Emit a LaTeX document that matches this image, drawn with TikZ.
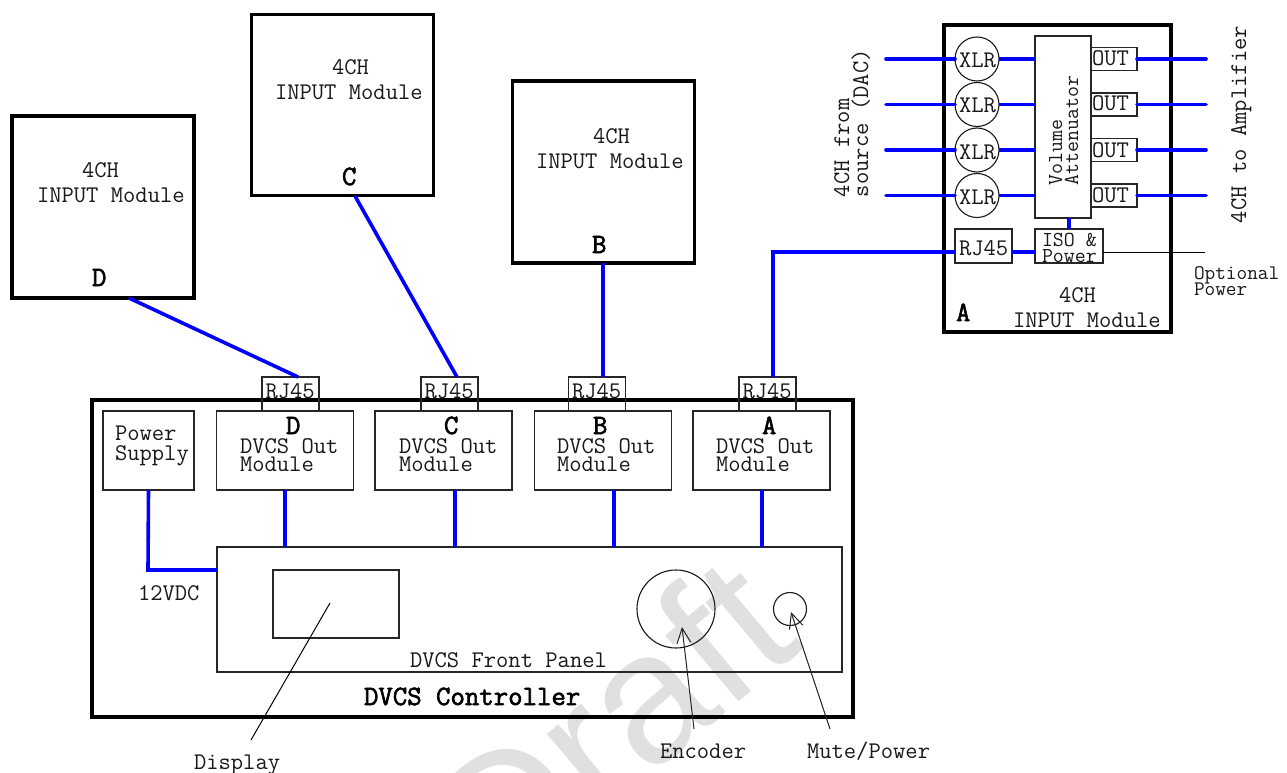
\documentclass[tikz,border=0pt]{standalone}
\usepackage{fontspec}
\setmainfont{Liberation Sans}
\newfontfamily\heavytt[FakeBold=2.2]{Latin Modern Mono}
\usetikzlibrary{arrows.meta}
\tikzset{
  x=1bp,y=-1bp,
  thinbox/.style={draw=black!85,line width=1.2bp,inner sep=0pt,outer sep=0pt},
  heavybox/.style={draw=black,line width=3.6bp,inner sep=0pt,outer sep=0pt},
  roundel/.style={circle,draw=black!90,line width=1.1bp,inner sep=0pt,outer sep=0pt},
  txt/.style={anchor=base west,inner sep=0pt,outer sep=0pt,yshift=-1bp,font=\ttfamily\fontsize{23.9bp}{23.9bp}\selectfont,text=black!90},
  smalltxt/.style={txt,font=\ttfamily\fontsize{21.3bp}{21.3bp}\selectfont},
  tinytxt/.style={txt,font=\ttfamily\fontsize{20.7bp}{20.7bp}\selectfont},
  boldtxt/.style={txt,font=\heavytt\fontsize{28bp}{28bp}\selectfont,text=black},
  vert/.style={rotate=90},
  wire/.style={draw=blue,line width=3.6bp},
  leader/.style={draw=black,line width=1bp},
  pointer/.style={draw=black!85,line width=1bp,-{Straight Barb[length=15bp,width=14bp,line width=1bp]}},
}
\begin{document}
\begin{tikzpicture}
\useasboundingbox (0,0) rectangle (1287,773);
\fill[white] (0,0) rectangle (1287,773);
% watermark
\node[anchor=base,inner sep=0pt,rotate=40,text=black!12,font=\fontsize{185bp}{185bp}\selectfont] (wm) at (652,775) {Draft};
% input modules
\node[heavybox,minimum width=182bp,minimum height=182bp] (modD) at (103,207) {};
\node[heavybox,minimum width=182bp,minimum height=181bp] (modC) at (342.5,105) {};
\node[heavybox,minimum width=182bp,minimum height=182bp] (modB) at (603.5,172) {};
\node[txt] (d4) at (82,176) {4CH};
\node[txt] (di) at (37,201) {INPUT Module};
\node[boldtxt] (dl) at (92,285) {D};
\node[txt] (c4) at (332,74) {4CH};
\node[txt] (ci) at (275,99) {INPUT Module};
\node[boldtxt] (cl) at (342,184) {C};
\node[txt] (b4) at (593,142) {4CH};
\node[txt] (bi) at (536,167) {INPUT Module};
\node[boldtxt] (bl) at (592,252) {B};
% controller
\node[heavybox,minimum width=761bp,minimum height=317bp] (ctrl) at (472.5,558.5) {};
\node[boldtxt] (ctrllabel) at (364,704) {DVCS Controller};
\node[thinbox,minimum width=91bp,minimum height=79bp] (ps) at (148.5,450.5) {};
\node[txt] (pst) at (115,439) {Power};
\node[txt] (pst2) at (115,459) {Supply};
\foreach \n/\l/\cx/\bx/\lx/\rj in {D/D/285/240/286/290.5,C/C/443.5/399/444/449.5,B/B/603/557/593/597,A/A/761.5/716/762/767.5}{
  \node[thinbox,fill=none,minimum width=137bp,minimum height=79bp] (out\n) at (\cx,450.5) {};
  \node[thinbox,minimum width=57bp,minimum height=34bp] (rj\n) at (\rj,394) {};
  \node[txt] at (\rj-25,397) {RJ45};
  \node[boldtxt] at (\lx,433) {\l};
  \node[txt] at (\bx,452) {DVCS Out};
  \node[txt] at (\bx,470) {Module};
}
\node[thinbox,minimum width=625bp,minimum height=125bp] (panel) at (529.5,609.5) {};
\node[txt] (pant) at (410,666) {DVCS Front Panel};
\node[thinbox,minimum width=126bp,minimum height=68bp] (disp) at (336,604) {};
\node[roundel,minimum size=78bp] (enc) at (676,609) {};
\node[roundel,minimum size=33bp] (mute) at (790,609) {};
\node[txt] (v12) at (138,599) {12VDC};
\node[txt] (dispt) at (194,768) {Display};
\node[txt] (enct) at (660,757) {Encoder};
\node[txt] (mutet) at (807,757) {Mute/Power};
% input module A
\node[heavybox,minimum width=227bp,minimum height=307bp] (modA) at (1057.5,178.5) {};
\node[thinbox,minimum width=56bp,minimum height=182bp] (att) at (1063,127) {};
\node[smalltxt,vert] (volt) at (1062,184) {Volume};
\node[smalltxt,vert] (attt) at (1078,184) {Attenuator};
\foreach \i/\y/\xb/\ob in {1/59/67/65,2/104.5/112/110,3/150/158/156,4/195.5/203/201}{
  \node[roundel,minimum size=44bp] (xlr\i) at (977,\y) {};
  \node[txt] at (959,\xb) {XLR};
  \node[thinbox,minimum width=46bp,minimum height=23bp] (o\i) at (1114,\y) {};
  \node[txt] at (1092,\ob) {OUT};
  \coordinate (inl\i) at (886,\y);
  \coordinate (outr\i) at (1206,\y);
  \draw[wire,line cap=round] (inl\i) -- (xlr\i.west);
  \draw[wire] (xlr\i.east) -- (xlr\i.east -| att.west);
  \draw[wire,line cap=round] (o\i.east) -- (outr\i);
}
\node[thinbox,minimum width=57bp,minimum height=34bp] (rjm) at (983.5,246) {};
\node[thinbox,minimum width=68bp,minimum height=34bp] (iso) at (1069,246) {};
\node[txt] (rjmt) at (959,254) {RJ45};
\node[smalltxt] (isot) at (1042,245) {ISO \&};
\node[smalltxt] (powt) at (1042,261) {Power};
\node[txt] (a4) at (1059,301) {4CH};
\node[txt] (ai) at (1013,326) {INPUT Module};
\node[boldtxt] (al) at (956,320) {A};
\node[tinytxt] (optt) at (1194,278) {Optional};
\node[tinytxt] (powert) at (1194,294) {Power};
\node[txt,vert] (src1) at (849,196) {4CH from};
\node[txt,vert] (src2) at (868,196) {source (DAC)};
\node[txt,vert] (ampt) at (1246,222) {4CH to Amplifier};
% connectors
\coordinate (cD1) at (129,298);
\coordinate (cD2) at (298,377);
\coordinate (cC1) at (355,196);
\coordinate (cC2) at (457,377);
\coordinate (cB) at (603,263);
\coordinate (cA1) at (773,377);
\coordinate (cA2) at (773,252);
\coordinate (cOutC) at (455,490);
\coordinate (cOutB) at (614,490);
\coordinate (cOutA) at (762,490);
\coordinate (cPsBend) at (148,570);
\coordinate (cOpt) at (1205,252);
\draw[wire] (cD1) -- (cD2);
\draw[wire] (cC1) -- (cC2);
\draw[wire] (cB) -- (cB |- rjB.north);
\draw[wire,line join=miter] (cA1) -- (cA2) -- (rjm.west |- cA2);
\draw[wire] (rjm.east |- cA2) -- (iso.west |- cA2);
\draw[wire] (att.south) ++(6,0) -- (iso.north);
\draw[leader] (iso.east |- cOpt) -- (cOpt);
\draw[wire,line join=miter] (ps.south) -- (cPsBend) -- (cPsBend -| panel.west);
\draw[wire] (outD.south) -- (outD.south |- panel.north);
\draw[wire] (cOutC) -- (cOutC |- panel.north);
\draw[wire] (cOutB) -- (cOutB |- panel.north);
\draw[wire] (cOutA) -- (cOutA |- panel.north);
% pointers
\coordinate (dsp1) at (330,603);
\coordinate (dsp2) at (251,740);
\coordinate (enc1) at (694,729);
\coordinate (enc2) at (682,627);
\coordinate (mut1) at (830,729);
\coordinate (mut2) at (791,612);
\draw[leader] (dsp1) -- (dsp2);
\draw[pointer] (enc1) -- (enc2);
\draw[pointer] (mut1) -- (mut2);
\end{tikzpicture}
\end{document}
